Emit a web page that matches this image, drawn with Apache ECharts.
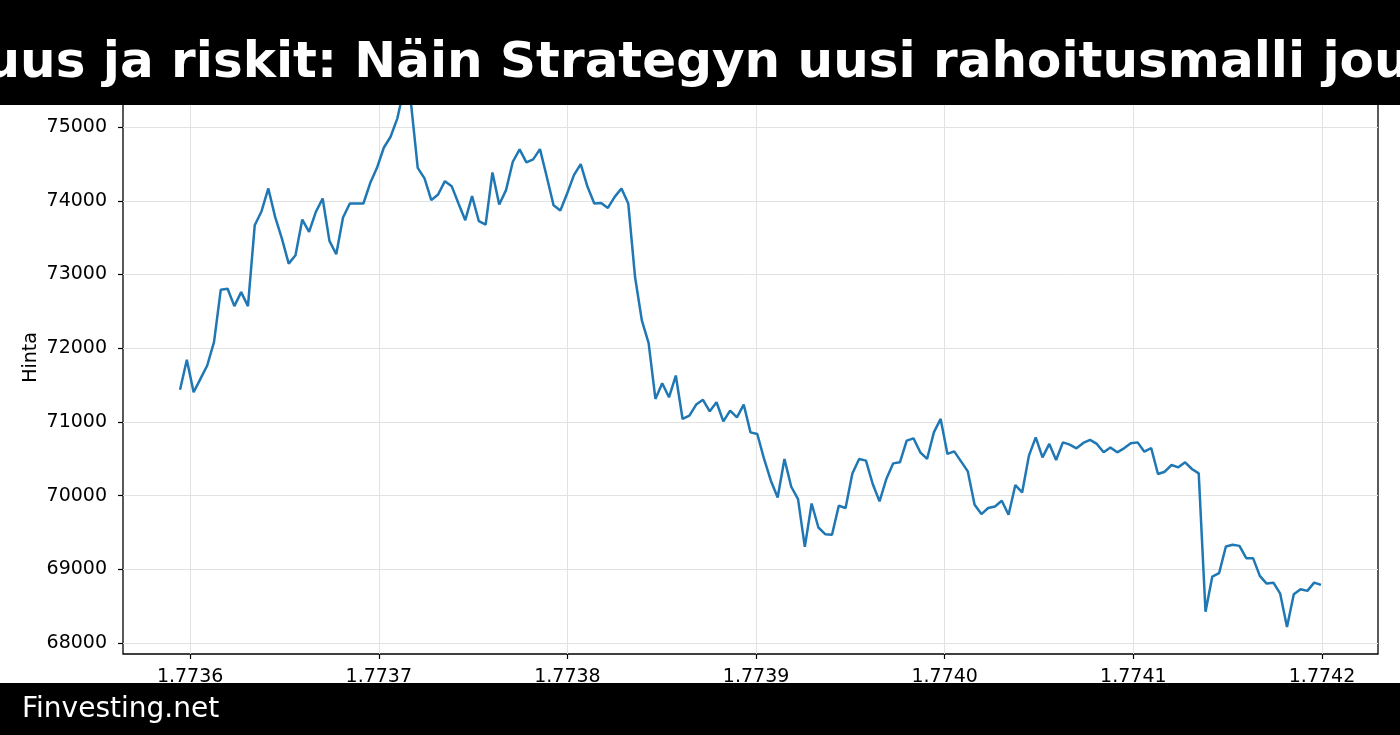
<!DOCTYPE html>
<html>
<head>
<meta charset="utf-8">
<script src="https://cdn.jsdelivr.net/npm/echarts@6.0.0/dist/echarts.min.js"></script>
<style>
html,body{margin:0;padding:0;background:#fff;}
#chart{width:1400px;height:735px;}
</style>
</head>
<body>
<div id="chart"></div>
<script>
const titleText = "uus ja riskit: Näin Strategyn uusi rahoitusmalli jou";
const footerText = "Finvesting.net";
const yAxisName = "Hinta";

// hourly timestamps (seconds)
const startTime = 1773594650;
const stepSeconds = 3600;

const prices = [
  71435, 71842, 71402, 71584, 71765, 72082, 72794, 72807, 72571, 72761,
  72571, 73668, 73858, 74167, 73781, 73487, 73147, 73260, 73745, 73577,
  73849, 74031, 73455, 73274, 73773, 73963, 73963, 73963, 74240, 74447,
  74719, 74868, 75118, 75530, 75330, 74447, 74303, 74008, 74085, 74266,
  74198, 73963, 73736, 74062, 73722, 73677, 74384, 73949, 74144, 74529,
  74696, 74520, 74561, 74701, 74325, 73940, 73868, 74099, 74348, 74497,
  74189, 73963, 73971, 73903, 74053, 74167, 73963, 72965, 72377, 72068,
  71312, 71524, 71334, 71629, 71040, 71085, 71235, 71299, 71144, 71266,
  71008, 71153, 71062, 71235, 70858, 70836, 70497, 70202, 69975, 70497,
  70120, 69953, 69305, 69893, 69567, 69477, 69468, 69862, 69831, 70301,
  70497, 70474, 70157, 69921, 70225, 70437, 70451, 70746, 70777, 70587,
  70497, 70858, 71040, 70565, 70600, 70464, 70328, 69876, 69749, 69831,
  69853, 69930, 69740, 70143, 70043, 70542, 70790, 70519, 70701, 70483,
  70722, 70691, 70641, 70714, 70755, 70701, 70587, 70654, 70587, 70641,
  70709, 70722, 70596, 70646, 70293, 70324, 70415, 70383, 70451, 70361,
  70301, 68425, 68901, 68947, 69309, 69332, 69318, 69151, 69151, 68911,
  68806, 68819, 68670, 68217, 68662, 68730, 68707, 68819, 68788
];

const xTicks = [1773600000, 1773700000, 1773800000, 1773900000, 1774000000, 1774100000, 1774200000];
const yTicks = [68000, 69000, 70000, 71000, 72000, 73000, 74000, 75000];

const seriesData = prices.map((p, i) => [startTime + i * stepSeconds, p]);

const chart = echarts.init(document.getElementById('chart'), null, {renderer: 'canvas'});
const font = 'DejaVu Sans';
chart.setOption({
  animation: false,
  backgroundColor: '#ffffff',
  grid: {
    left: 123, right: 22, top: 61, bottom: 81,
    show: true, borderColor: '#000000', borderWidth: 1.3, backgroundColor: '#ffffff'
  },
  xAxis: {
    type: 'value',
    min: 1773564410,
    max: 1774229690,
    axisLine: {show: false},
    axisTick: {show: true, length: 5, inside: false, customValues: xTicks, lineStyle: {color: '#000', width: 1.2}},
    axisLabel: {
      customValues: xTicks,
      formatter: v => (v / 1e9).toFixed(4),
      color: '#000', fontFamily: font, fontSize: 19, margin: 14
    },
    splitLine: {show: true, lineStyle: {color: '#e2e2e2', width: 1}}
  },
  yAxis: {
    type: 'value',
    min: 67851,
    max: 75896,
    name: yAxisName,
    nameLocation: 'middle',
    nameGap: 82,
    nameMoveOverlap: false,
    nameTextStyle: {color: '#000', fontFamily: font, fontSize: 19},
    axisLine: {show: false},
    axisTick: {show: true, length: 5, inside: false, customValues: yTicks, lineStyle: {color: '#000', width: 1.2}},
    axisLabel: {
      customValues: yTicks,
      formatter: v => String(v),
      color: '#000', fontFamily: font, fontSize: 19, margin: 16
    },
    splitLine: {show: true, lineStyle: {color: '#e2e2e2', width: 1}}
  },
  series: [{
    type: 'line',
    data: seriesData,
    showSymbol: false,
    symbol: 'none',
    lineStyle: {color: '#1f77b4', width: 2.5},
    z: 5
  }],
  graphic: [
    {type: 'rect', z: 100, shape: {x: 0, y: 0, width: 1400, height: 105}, style: {fill: '#000'}},
    {type: 'text', z: 101, x: 697, y: 64, style: {
      text: titleText, fill: '#fff', font: 'bold 50px "DejaVu Sans"',
      textAlign: 'center', textVerticalAlign: 'middle'
    }},
    {type: 'rect', z: 100, shape: {x: 0, y: 683, width: 1400, height: 52}, style: {fill: '#000'}},
    {type: 'text', z: 101, x: 22, y: 710, style: {
      text: footerText, fill: '#fff', font: '28px "DejaVu Sans"',
      textAlign: 'left', textVerticalAlign: 'middle'
    }}
  ]
});
</script>
</body>
</html>
